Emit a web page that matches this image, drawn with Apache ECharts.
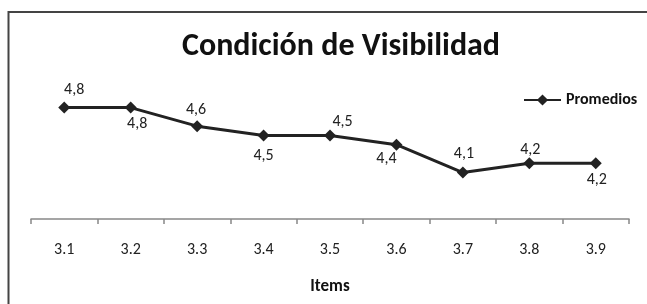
<!DOCTYPE html>
<html>
<head>
<meta charset="utf-8">
<script src="https://cdn.jsdelivr.net/npm/echarts@6/dist/echarts.min.js"></script>
<style>
html,body{margin:0;padding:0;background:#fff;}
#chart{width:647px;height:304px;}
</style>
</head>
<body>
<div id="chart"></div>
<script>
const categories = ['3.1','3.2','3.3','3.4','3.5','3.6','3.7','3.8','3.9'];
const promedios = [4.8, 4.8, 4.6, 4.5, 4.5, 4.4, 4.1, 4.2, 4.2];
const seriesName = 'Promedios';
const titleText = 'Condición de Visibilidad';
const xAxisName = 'Items';

const FONT = 'Carlito, Lato, "Open Sans", sans-serif';
// label placement per point (style, not data)
const labelStyle = [
  {position:'top', offset:[10,2.5]},
  {position:'bottom', offset:[6.5,-3.5]},
  {position:'top', offset:[-1,3.5]},
  {position:'bottom', offset:[0,0.5]},
  {position:'top', offset:[12.5,6.5]},
  {position:'bottom', offset:[-10,-6]},
  {position:'top', offset:[1,1]},
  {position:'top', offset:[1,6.5]},
  {position:'bottom', offset:[1,-3]}
];

const chart = echarts.init(document.getElementById('chart'), null, {renderer:'canvas'});
chart.setOption({
  backgroundColor:'#fff',
  animation:false,
  title:{
    text:titleText,
    left:177,
    top:26,
    textStyle:{fontFamily:FONT, fontWeight:'bold', fontSize:32, color:'#111'}
  },
  legend:{
    data:[seriesName],
    left:518,
    top:87,
    itemWidth:37,
    itemHeight:14,
    itemGap:4,
    textStyle:{fontFamily:FONT, fontWeight:'bold', fontSize:16, color:'#111'}
  },
  grid:{left:31, right:18, top:89, bottom:85},
  xAxis:{
    type:'category',
    data:categories,
    boundaryGap:true,
    axisLine:{lineStyle:{color:'#888', width:1.5}},
    axisTick:{show:true, length:5, lineStyle:{color:'#888', width:1.5}},
    axisLabel:{fontFamily:FONT, fontSize:16, color:'#222', margin:23},
    name:xAxisName,
    nameLocation:'middle',
    nameGap:59,
    nameTextStyle:{fontFamily:FONT, fontWeight:'bold', fontSize:17, color:'#111'}
  },
  yAxis:{
    type:'value',
    min:3.6,
    max:5.0,
    interval:0.2,
    show:false
  },
  graphic:[{
    type:'rect',
    shape:{x:8.5, y:12, width:700, height:400},
    style:{fill:null, stroke:'#444', lineWidth:2},
    silent:true
  }],
  series:[{
    name:seriesName,
    type:'line',
    data:promedios.map((v,i)=>({
      value:v,
      label:{show:true, position:labelStyle[i].position, offset:labelStyle[i].offset}
    })),
    symbol:'diamond',
    symbolSize:12,
    lineStyle:{color:'#222', width:3},
    itemStyle:{color:'#222'},
    label:{
      show:true,
      fontFamily:FONT,
      fontSize:16,
      color:'#222',
      distance:6,
      formatter:p=>p.value.toFixed(1).replace('.', ',')
    }
  }]
});
</script>
</body>
</html>
